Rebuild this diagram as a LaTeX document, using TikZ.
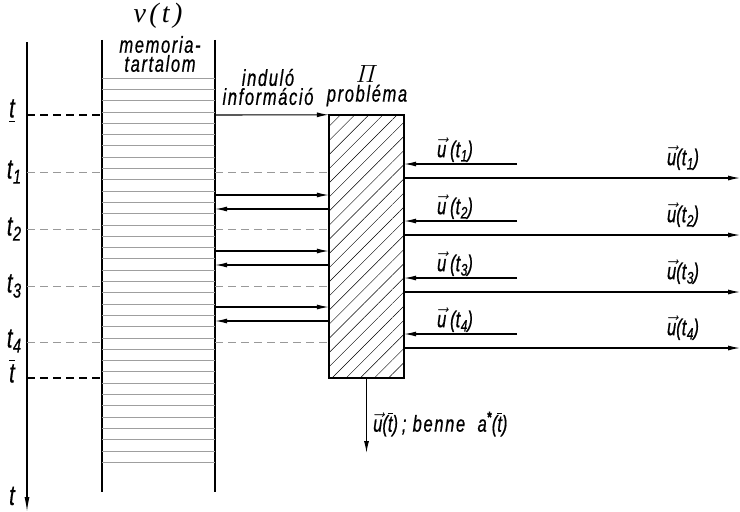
\documentclass[tikz,border=0pt]{standalone}
\usepackage{amsmath}
\usepackage{fontspec}
\setsansfont{Liberation Sans}[FakeStretch=0.72,LetterSpace=7,FakeBold=0.6]
\newfontfamily\serifit{Liberation Serif}[LetterSpace=12]
\usetikzlibrary{arrows.meta,patterns.meta}
\newcommand\myuvec{\ensuremath{\vec{\mbox{\itshape u}}}}
\newcommand\tsub[1]{\mbox{\itshape t\kern0.5pt\raisebox{-0.35ex}{\fontsize{0.72em}{1em}\selectfont #1}}}
\newcommand\tbar{\mbox{$\overline{\mbox{\itshape t}}$}}
\begin{document}
\begin{tikzpicture}[x=1pt,y=-1pt,
  lbl/.style={font=\sffamily\itshape\fontsize{23}{24}\selectfont, inner sep=0pt, align=center},
  axlbl/.style={font=\sffamily\itshape\fontsize{28}{29}\selectfont, inner sep=0pt},
  thickline/.style={line width=1.8pt},
  arr/.style={line width=1.1pt,-{Latex[length=12pt,width=5pt]}},
  thickdash/.style={line width=1.1pt,dash pattern=on 8pt off 5pt},
  thindash/.style={line width=0.6pt,gray!80,dash pattern=on 8pt off 5pt},
  memline/.style={line width=0.7pt,gray!75}]
\useasboundingbox (0,0) rectangle (740,512);
% time axis
\coordinate (axtop) at (27,42);
\coordinate (axbot) at (27,512);
\draw[line width=1.3pt,-{Latex[length=15pt,width=5pt]}] (axtop) -- (axbot);
% memory strip
\node[minimum width=113pt, minimum height=452pt, inner sep=0pt] (M) at (158.5,266) {};
\draw[thickline] (M.north west) -- (M.south west);
\draw[thickline] (M.north east) -- (M.south east);
\foreach \i in {0,...,34}{
  \draw[memline] (M.west |- 0,{78+\i*11.3}) -- (M.east |- 0,{78+\i*11.3});
}
% problem box
\node[draw, line width=1.8pt, minimum width=75pt, minimum height=263pt, inner sep=0pt,
  pattern={Lines[angle=45,distance=10pt,line width=0.45pt]}] (P) at (366.5,246.5) {};
% time levels
\coordinate (t0) at (0,115);
\coordinate (t1) at (0,172);
\coordinate (t2) at (0,229);
\coordinate (t3) at (0,286);
\coordinate (t4) at (0,342);
\coordinate (tb) at (0,378);
\draw[thickdash] (axtop |- t0) -- (M.west |- t0);
\draw[thickdash] (axtop |- tb) -- (M.west |- tb);
\foreach \c in {t1,t2,t3,t4}{
  \draw[thindash] (axtop |- \c) -- (M.west |- \c);
  \draw[thindash] (M.east |- \c) -- (P.west |- \c);
}
% initial information
\draw[arr] (M.east |- t0) -- (P.north west);
% memory <-> problem exchanges
\foreach \y in {195,251,307}{
  \draw[arr] (M.east |- 0,\y) -- (P.west |- 0,\y);
  \draw[arr] (P.west |- 0,{\y+14}) -- (M.east |- 0,{\y+14});
}
% right side inputs and outputs
\foreach \y/\k in {172/1,229/2,286/3,342/4}{
  \coordinate (src\k) at (517,{\y-8});
  \coordinate (dst\k) at (740,{\y+6});
  \draw[arr] (src\k) -- (P.east |- src\k);
  \draw[arr] (P.east |- dst\k) -- (dst\k);
  \node[lbl] (la\k) at (455,{\y-22}) {\myuvec\,(\tsub{\k})};
  \node[lbl] (lb\k) at (683,{\y-14}) {\myuvec(\tsub{\k})};
}
% output
\coordinate (outend) at (366.5,453);
\draw[arr] (P.south) -- (outend);
\node[lbl, anchor=west] (outl) at (373,424) {\myuvec(\tbar)\,; benne\ \ \itshape a\textsuperscript{\bfseries *}(\tbar)};
% headings
\node[inner sep=0pt, font=\serifit\itshape\fontsize{28}{29}\selectfont] (vt) at (158,16) {v(t)};
\node[lbl] (mem) at (160,54) {memoria-\\[-5pt]tartalom};
\node[lbl] (ind) at (268,87) {induló\\[-5pt]információ};
\node[lbl] (prob) at (367,86) {$\varPi$\\[-5pt]probléma};
% left labels
\node[axlbl] (l0) at (12,111) {\underline{t}};
\node[axlbl] (l1) at (14,172) {\tsub{1}};
\node[axlbl] (l2) at (14,229) {\tsub{2}};
\node[axlbl] (l3) at (14,286) {\tsub{3}};
\node[axlbl] (l4) at (14,341) {\tsub{4}};
\node[axlbl] (lb) at (12,371) {\tbar};
\node[axlbl] (lt) at (12,496) {t};
\end{tikzpicture}
\end{document}
